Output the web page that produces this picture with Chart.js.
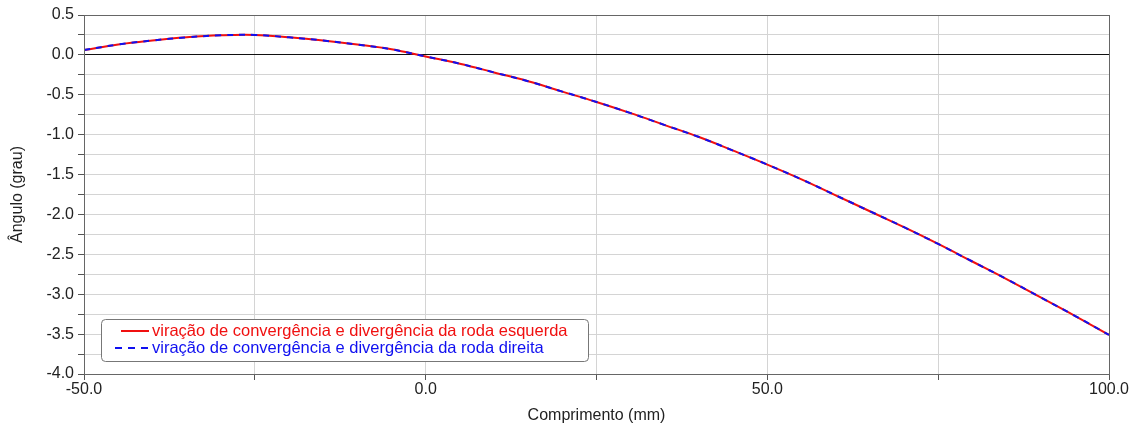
<!DOCTYPE html>
<html>
<head>
<meta charset="utf-8">
<script src="https://cdn.jsdelivr.net/npm/chart.js@4/dist/chart.umd.min.js"></script>
<style>
  html, body { margin: 0; padding: 0; background: #fff; }
  #wrap { width: 1136px; height: 425px; position: relative; }
</style>
</head>
<body>
<div id="wrap"><canvas id="toeChart"></canvas></div>
<script>
// comprimento (mm)
const lengthMm = [-50, -45, -40, -35, -30, -25, -20, -15, -10, -5, 0, 5, 10, 15, 20, 25,
                  30, 35, 40, 45, 50, 55, 60, 65, 70, 75, 80, 85, 90, 95, 100];
// ângulo (grau) - roda esquerda / roda direita
const leftWheel  = [0.06, 0.13, 0.18, 0.22, 0.245, 0.25, 0.22, 0.18, 0.13, 0.07, -0.02, -0.11, -0.22, -0.33, -0.46, -0.59,
                    -0.73, -0.88, -1.03, -1.2, -1.375, -1.56, -1.76, -1.96, -2.16, -2.37, -2.59, -2.81, -3.04, -3.27, -3.51];
const rightWheel = [0.06, 0.13, 0.18, 0.22, 0.245, 0.25, 0.22, 0.18, 0.13, 0.07, -0.02, -0.11, -0.22, -0.33, -0.46, -0.59,
                    -0.73, -0.88, -1.03, -1.2, -1.375, -1.56, -1.76, -1.96, -2.16, -2.37, -2.59, -2.81, -3.04, -3.27, -3.51];
const seriesLabels = ['viração de convergência e divergência da roda esquerda',
                      'viração de convergência e divergência da roda direita'];

const FONT = "'Liberation Sans', Arial, sans-serif";

// frame round the plot + legend box in the lower left corner
const framePlugin = {
    id: 'frame',
    afterDraw(chart) {
        const { ctx, chartArea: a } = chart;
        ctx.save();
        ctx.strokeStyle = '#666';
        ctx.lineWidth = 1;
        ctx.strokeRect(a.left + 0.5, a.top + 0.5, a.right - a.left, a.bottom - a.top);

        // legend
        const bx = 101, by = 319, bw = 487, bh = 42;
        ctx.fillStyle = '#fff';
        ctx.strokeStyle = '#777';
        ctx.beginPath();
        ctx.roundRect(bx + 0.5, by + 0.5, bw, bh, 4);
        ctx.fill();
        ctx.stroke();

        ctx.font = '16.5px ' + FONT;
        ctx.textBaseline = 'middle';
        chart.data.datasets.forEach((ds, i) => {
            const y = by + 12 + i * 17;
            const dashed = !!ds.borderDash;
            ctx.strokeStyle = ds.borderColor;
            ctx.lineWidth = 2;
            ctx.setLineDash(dashed ? [7, 6] : []);
            ctx.beginPath();
            ctx.moveTo(bx + (dashed ? 14 : 20), y);
            ctx.lineTo(bx + 48, y);
            ctx.stroke();
            ctx.setLineDash([]);
            ctx.fillStyle = ds.borderColor;
            ctx.fillText(ds.label, bx + 51, y);
        });
        ctx.restore();
    }
};

const ctx = document.getElementById('toeChart').getContext('2d');
new Chart(ctx, {
    type: 'line',
    data: {
        datasets: [{
            label: seriesLabels[0],
            data: lengthMm.map((x, i) => ({ x: x, y: leftWheel[i] })),
            borderColor: '#f01010',
            borderWidth: 2,
            pointRadius: 0,
            tension: 0.4,
            fill: false,
            order: 1
        }, {
            label: seriesLabels[1],
            data: lengthMm.map((x, i) => ({ x: x, y: rightWheel[i] })),
            borderColor: '#1010f0',
            borderWidth: 2,
            borderDash: [6, 6],
            pointRadius: 0,
            tension: 0.4,
            fill: false,
            order: 0
        }]
    },
    options: {
        responsive: true,
        maintainAspectRatio: false,
        animation: false,
        layout: { padding: { top: 15, right: 27, left: 0, bottom: 0 } },
        plugins: {
            legend: { display: false },
            tooltip: { enabled: false }
        },
        scales: {
            x: {
                type: 'linear',
                min: -50,
                max: 100,
                afterFit: s => { s.height = 51; },
                border: { color: '#666' },
                grid: { color: '#d4d4d4', tickColor: '#555', tickLength: 6 },
                ticks: {
                    stepSize: 25,
                    autoSkip: false,
                    padding: 0,
                    maxRotation: 0,
                    color: '#222',
                    font: { family: FONT, size: 16 },
                    callback: v => (v % 50 === 0 ? v.toFixed(1) : '')
                },
                title: {
                    display: true,
                    text: 'Comprimento (mm)',
                    color: '#222',
                    font: { family: FONT, size: 16 },
                    padding: { top: 0, bottom: 0 }
                }
            },
            y: {
                min: -4,
                max: 0.5,
                afterFit: s => { s.width = 84; },
                border: { color: '#666' },
                grid: {
                    color: c => (c.tick && c.tick.value === 0 ? '#111' : '#d4d4d4'),
                    tickColor: '#555',
                    tickLength: 6
                },
                ticks: {
                    stepSize: 0.25,
                    autoSkip: false,
                    padding: 4,
                    color: '#222',
                    font: { family: FONT, size: 16 },
                    callback: v => (Math.abs(v * 2 - Math.round(v * 2)) < 1e-9 ? v.toFixed(1) : '')
                },
                title: {
                    display: true,
                    text: 'Ângulo (grau)',
                    color: '#222',
                    font: { family: FONT, size: 16 },
                    padding: { top: 8, bottom: 0 }
                }
            }
        }
    },
    plugins: [framePlugin]
});
</script>
</body>
</html>
